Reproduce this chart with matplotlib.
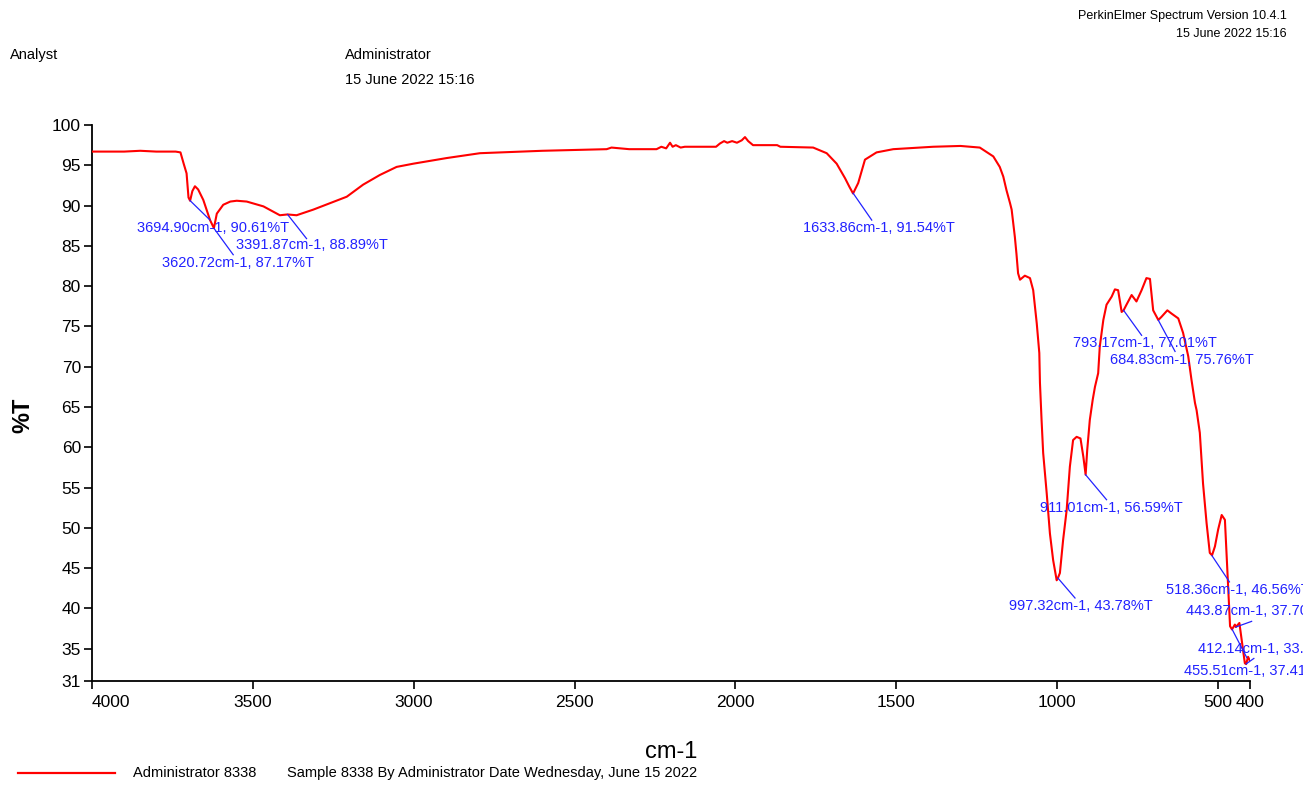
import matplotlib.pyplot as plt
import numpy as np

plt.rcParams['font.family'] = ['Liberation Sans', 'DejaVu Sans']

# spectrum (wavenumber cm-1, %T)
wavenumber = [4000, 3900, 3850, 3800, 3740, 3725, 3715, 3706, 3700, 3695, 3688, 3680,
              3670, 3654, 3633, 3621, 3612, 3592, 3570, 3550, 3519, 3467, 3416, 3392,
              3364, 3312, 3260, 3208, 3157, 3105, 3053, 3001, 2897, 2794, 2600, 2400,
              2385, 2330, 2245, 2230, 2215, 2203, 2195, 2185, 2170, 2157, 2110, 2060,
              2048, 2035, 2025, 2010, 1995, 1980, 1970, 1960, 1945, 1870, 1860, 1758,
              1716, 1685, 1659, 1645, 1634, 1618, 1597, 1561, 1509, 1385, 1300, 1240,
              1198, 1178, 1167, 1157, 1146, 1141, 1131, 1126, 1121, 1115, 1100, 1084,
              1074, 1063, 1055, 1053, 1048, 1043, 1032, 1022, 1012, 1001, 997, 991,
              981, 970, 960, 950, 939, 927, 918, 911, 906, 898, 889, 882, 872, 867,
              856, 846, 830, 820, 810, 799, 793, 784, 768, 753, 737, 722, 711, 701,
              685, 675, 657, 644, 623, 608, 592, 582, 571, 566, 556, 546, 535, 525,
              518, 509, 499, 488, 478, 471, 466, 462, 456, 447, 444, 433, 426, 416,
              412, 406, 400]
transmittance = [96.7, 96.7, 96.8, 96.7, 96.7, 96.6, 95.2, 94.0, 91.0, 90.6, 91.8, 92.4,
                 92.0, 90.7, 88.2, 87.2, 89.0, 90.1, 90.5, 90.6, 90.5, 89.9, 88.8, 88.9,
                 88.8, 89.5, 90.3, 91.1, 92.6, 93.8, 94.8, 95.2, 95.9, 96.5, 96.8, 97.0,
                 97.2, 97.0, 97.0, 97.3, 97.1, 97.8, 97.3, 97.5, 97.2, 97.3, 97.3, 97.3,
                 97.7, 98.0, 97.8, 98.0, 97.8, 98.1, 98.5, 98.0, 97.5, 97.5, 97.3, 97.2,
                 96.5, 95.2, 93.4, 92.3, 91.5, 92.8, 95.7, 96.6, 97.0, 97.3, 97.4, 97.2,
                 96.1, 94.8, 93.6, 91.9, 90.3, 89.5, 86.1, 84.0, 81.6, 80.8, 81.3, 81.0,
                 79.5, 75.4, 71.7, 68.0, 63.4, 59.3, 54.3, 49.3, 46.0, 43.5, 43.8, 44.4,
                 48.5, 52.2, 57.6, 60.9, 61.3, 61.1, 58.8, 56.6, 59.7, 63.4, 65.9, 67.5,
                 69.2, 72.5, 75.8, 77.7, 78.7, 79.6, 79.5, 76.8, 77.0, 77.7, 78.9, 78.1,
                 79.5, 81.0, 80.9, 77.0, 75.8, 76.2, 77.0, 76.6, 76.0, 74.2, 71.3, 68.4,
                 65.5, 64.6, 61.8, 55.5, 50.6, 46.9, 46.6, 47.7, 49.8, 51.6, 51.0, 45.2,
                 41.1, 37.8, 37.4, 38.0, 37.7, 38.2, 36.1, 33.2, 33.1, 34.0, 33.5]

# peak labels: point, end of leader line, text anchor
peak_text = ["3694.90cm-1, 90.61%T", "3620.72cm-1, 87.17%T", "3391.87cm-1, 88.89%T",
             "1633.86cm-1, 91.54%T", "793.17cm-1, 77.01%T", "684.83cm-1, 75.76%T",
             "911.01cm-1, 56.59%T", "997.32cm-1, 43.78%T", "518.36cm-1, 46.56%T",
             "443.87cm-1, 37.70%T", "412.14cm-1, 33.12%T", "455.51cm-1, 37.41%T"]
peak_x = [3694.90, 3620.72, 3391.87, 1633.86, 793.17, 684.83, 911.01, 997.32, 518.36,
          443.87, 412.14, 455.51]
peak_y = [90.61, 87.17, 88.89, 91.54, 77.01, 75.76, 56.59, 43.78, 46.56, 37.70, 33.12, 37.41]
line_x = [3633, 3561, 3333, 1576, 737, 633, 846, 944, 464, 395, 388, 410]
line_y = [88.2, 83.9, 85.9, 88.2, 73.9, 71.9, 53.5, 41.3, 43.3, 38.4, 33.8, 33.9]
text_x = [3860, 3782, 3552, 1790, 951, 836, 1053, 1150, 661, 599, 562, 606]
text_y = [87.2, 82.9, 85.1, 87.2, 73.0, 70.8, 52.5, 40.3, 42.3, 39.7, 35.0, 32.3]

W, H = 1303, 787
fig = plt.figure(figsize=(W / 100, H / 100), dpi=100)
ax = fig.add_axes([92 / W, 1 - 681 / H, (1250 - 92) / W, (681 - 125) / H])

ax.plot(wavenumber, transmittance, color="#ff0000", linewidth=1.5, zorder=3)

blue = "#2222ff"
for i in range(len(peak_text)):
    ax.plot([peak_x[i], line_x[i]], [peak_y[i], line_y[i]], color=blue,
            linewidth=0.9, clip_on=False, zorder=4)
    ax.text(text_x[i], text_y[i], peak_text[i], color=blue, fontsize=10.5,
            ha="left", va="center", clip_on=False, zorder=5)

ax.set_xlim(4000, 400)
ax.set_ylim(31, 100)
ax.set_xticks([4000, 3500, 3000, 2500, 2000, 1500, 1000, 500, 400])
ax.set_yticks([100, 95, 90, 85, 80, 75, 70, 65, 60, 55, 50, 45, 40, 35, 31])
ax.tick_params(axis="both", direction="out", length=6, width=1.2, labelsize=12.5,
               colors="black", pad=2)
ax.tick_params(axis="x", pad=4)
# first x label sits to the right of its tick, clear of the y labels
ax.get_xticklabels()[0].set_horizontalalignment("left")
for side in ["top", "right"]:
    ax.spines[side].set_visible(False)
for side in ["left", "bottom"]:
    ax.spines[side].set_linewidth(1.3)

# axis titles
fig.text(23 / W, 1 - 415 / H, "%T", rotation=90, fontsize=17, fontweight="bold",
         ha="center", va="center")
fig.text(671 / W, 1 - 752 / H, "cm-1", fontsize=17, ha="center", va="center")

# header
fig.text(10 / W, 1 - 55 / H, "Analyst", fontsize=10.5, ha="left", va="center")
fig.text(345 / W, 1 - 55 / H, "Administrator", fontsize=10.5, ha="left", va="center")
fig.text(345 / W, 1 - 80 / H, "15 June 2022 15:16", fontsize=10.5, ha="left", va="center")
fig.text(1287 / W, 1 - 16 / H, "PerkinElmer Spectrum Version 10.4.1", fontsize=9,
         ha="right", va="center")
fig.text(1287 / W, 1 - 34 / H, "15 June 2022 15:16", fontsize=9, ha="right", va="center")

# legend row
fig.add_artist(plt.Line2D([18 / W, 115 / W], [1 - 773 / H, 1 - 773 / H],
                          color="#ff0000", linewidth=1.6))
fig.text(133 / W, 1 - 773 / H, "Administrator 8338", fontsize=10.5, ha="left", va="center")
fig.text(287 / W, 1 - 773 / H, "Sample 8338 By Administrator Date Wednesday, June 15 2022",
         fontsize=10.5, ha="left", va="center")

fig.savefig("out.png", dpi=100)
